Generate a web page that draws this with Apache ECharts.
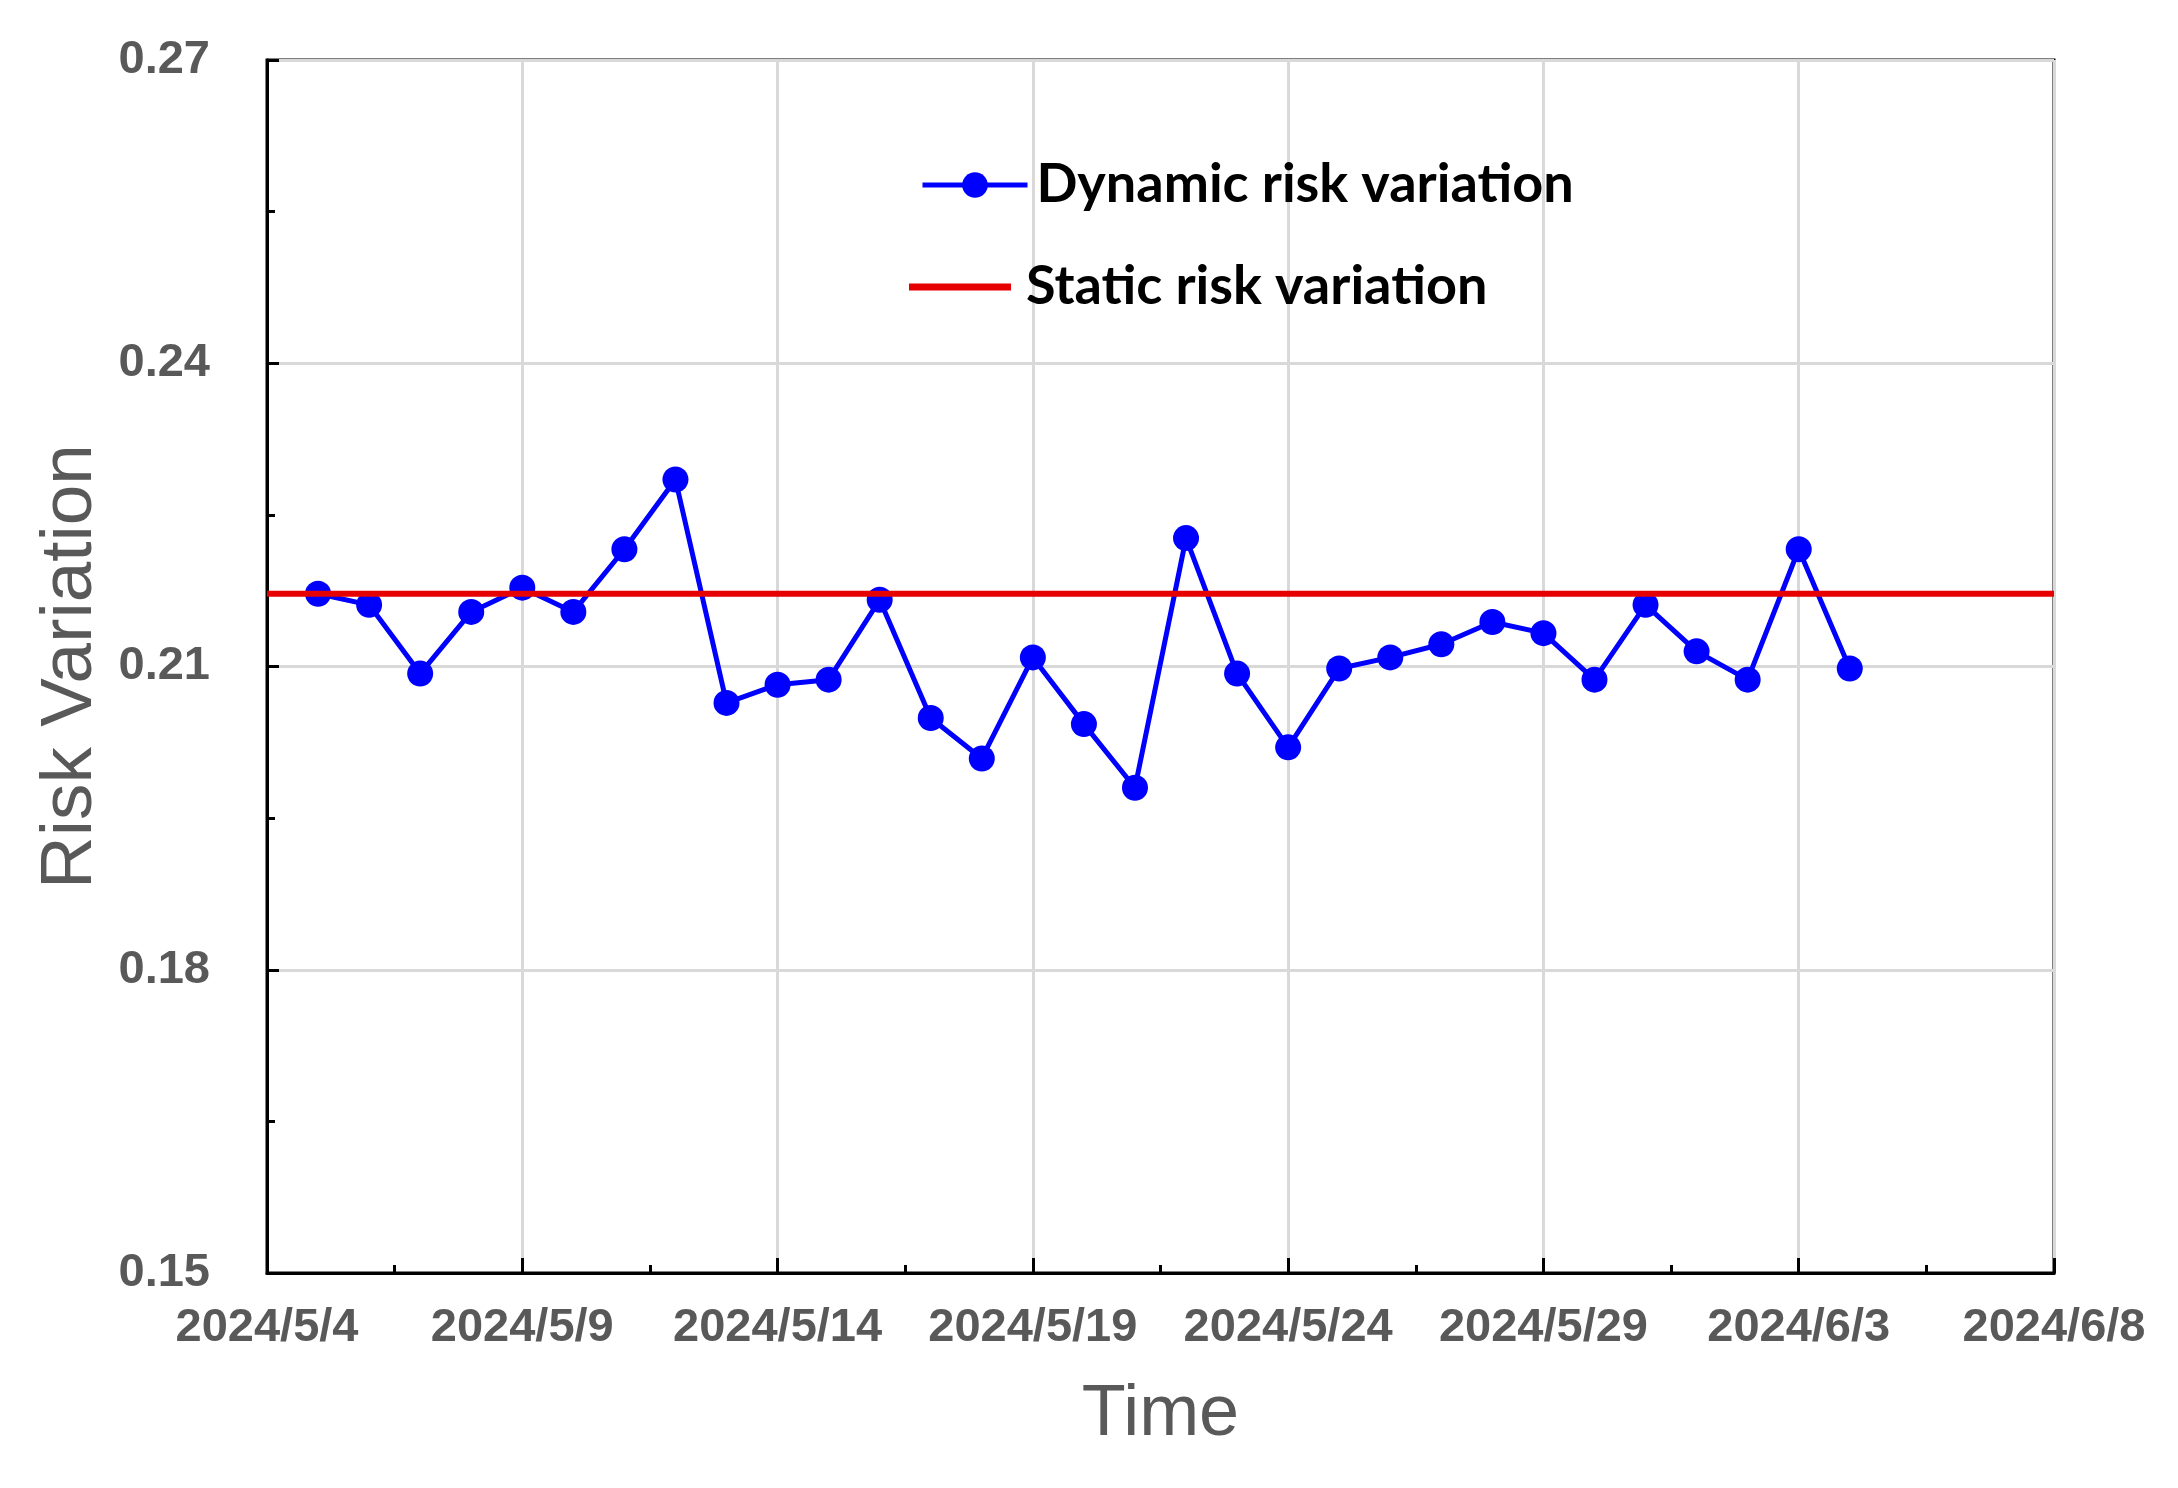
<!DOCTYPE html>
<html>
<head>
<meta charset="utf-8">
<script src="https://cdn.jsdelivr.net/npm/echarts@6/dist/echarts.min.js"></script>
<style>
html,body{margin:0;padding:0;background:#fff;}
#chart{width:2178px;height:1488px;}
</style>
</head>
<body>
<div id="chart"></div>
<script>
// ---- data ----
const dates = ['2024-05-05','2024-05-06','2024-05-07','2024-05-08','2024-05-09','2024-05-10','2024-05-11','2024-05-12','2024-05-13','2024-05-14','2024-05-15','2024-05-16','2024-05-17','2024-05-18','2024-05-19','2024-05-20','2024-05-21','2024-05-22','2024-05-23','2024-05-24','2024-05-25','2024-05-26','2024-05-27','2024-05-28','2024-05-29','2024-05-30','2024-05-31','2024-06-01','2024-06-02','2024-06-03','2024-06-04'];
const dynamicRisk = [0.2172,0.2161,0.2093,0.2154,0.2178,0.2154,0.2216,0.2285,0.2064,0.2082,0.2087,0.2166,0.2049,0.2009,0.2109,0.2043,0.1980,0.2227,0.2093,0.2020,0.2098,0.2109,0.2122,0.2144,0.2133,0.2087,0.2161,0.2115,0.2087,0.2216,0.2098];
const staticRisk = 0.2172;
const axisStart = '2024-05-04';
const axisEnd = '2024-06-08';
const yTicks = [0.15, 0.18, 0.21, 0.24, 0.27];
const seriesNames = ['Dynamic risk variation', 'Static risk variation'];

// ---- helpers ----
const DAY = 86400000;
const base = Date.parse(axisStart);
const toDay = d => (Date.parse(d) - base) / DAY;
const xMax = toDay(axisEnd);
const fmtDate = v => {
  const d = new Date(base + Math.round(v) * DAY);
  return d.getUTCFullYear() + '/' + (d.getUTCMonth() + 1) + '/' + d.getUTCDate();
};

const dynData = dates.map((d, i) => [toDay(d), dynamicRisk[i]]);
const staticData = [[0, staticRisk], [xMax, staticRisk]];

const labelFont = "'Liberation Sans', Arial, sans-serif";
const legendFont = "Lato, 'Noto Sans', sans-serif";
const gray = '#595959';
const blue = '#0000ff';
const red = '#e60000';

const chart = echarts.init(document.getElementById('chart'), null, {renderer: 'canvas'});
chart.setOption({
  animation: false,
  backgroundColor: '#fff',
  grid: {left: 267, top: 60, width: 1787, height: 1213, show: true, borderColor: '#000', borderWidth: 3, containLabel: false},
  legend: [
    {
      data: [seriesNames[0]], left: 920, top: 158, padding: 0,
      itemWidth: 105, itemHeight: 32,
      lineStyle: {width: 5},
      textStyle: {fontFamily: legendFont, fontWeight: 'bold', fontSize: 54, color: '#000', padding: [0, 0, 0, 4]}
    },
    {
      data: [{name: seriesNames[1], icon: 'rect'}], left: 909, top: 260, padding: 0,
      itemWidth: 102, itemHeight: 7,
      textStyle: {fontFamily: legendFont, fontWeight: 'bold', fontSize: 54, color: '#000', padding: [0, 0, 0, 10]}
    }
  ],
  xAxis: {
    type: 'value', min: 0, max: xMax, interval: 5,
    name: 'Time', nameLocation: 'middle', nameGap: 106,
    nameTextStyle: {fontFamily: labelFont, fontSize: 72, color: gray},
    axisLine: {show: true, lineStyle: {color: '#000', width: 3}},
    axisTick: {show: true, inside: true, length: 15, lineStyle: {color: '#000', width: 3}},
    minorTick: {show: true, splitNumber: 2, length: 8, lineStyle: {color: '#000', width: 3}},
    axisLabel: {margin: 32, fontFamily: labelFont, fontWeight: 'bold', fontSize: 47, color: gray, formatter: fmtDate},
    splitLine: {show: true, lineStyle: {color: '#d9d9d9', width: 3}},
    minorSplitLine: {show: false}
  },
  yAxis: {
    type: 'value', min: yTicks[0], max: yTicks[yTicks.length - 1], interval: 0.03,
    name: 'Risk Variation', nameLocation: 'middle', nameGap: 157,
    nameTextStyle: {fontFamily: labelFont, fontSize: 73, color: gray},
    axisLine: {show: true, lineStyle: {color: '#000', width: 3}},
    axisTick: {show: true, inside: true, length: 12, lineStyle: {color: '#000', width: 3}},
    minorTick: {show: true, splitNumber: 2, length: 8, lineStyle: {color: '#000', width: 3}},
    axisLabel: {margin: 57, fontFamily: labelFont, fontWeight: 'bold', fontSize: 47, color: gray, formatter: v => v.toFixed(2)},
    splitLine: {show: true, lineStyle: {color: '#d9d9d9', width: 3}},
    minorSplitLine: {show: false}
  },
  series: [
    {
      name: seriesNames[0], type: 'line', data: dynData,
      symbol: 'circle', symbolSize: 26,
      itemStyle: {color: blue},
      lineStyle: {color: blue, width: 5},
      z: 3
    },
    {
      name: seriesNames[1], type: 'line', data: staticData,
      symbol: 'none', showSymbol: false,
      itemStyle: {color: red},
      lineStyle: {color: red, width: 6},
      z: 4
    }
  ]
});
</script>
</body>
</html>
